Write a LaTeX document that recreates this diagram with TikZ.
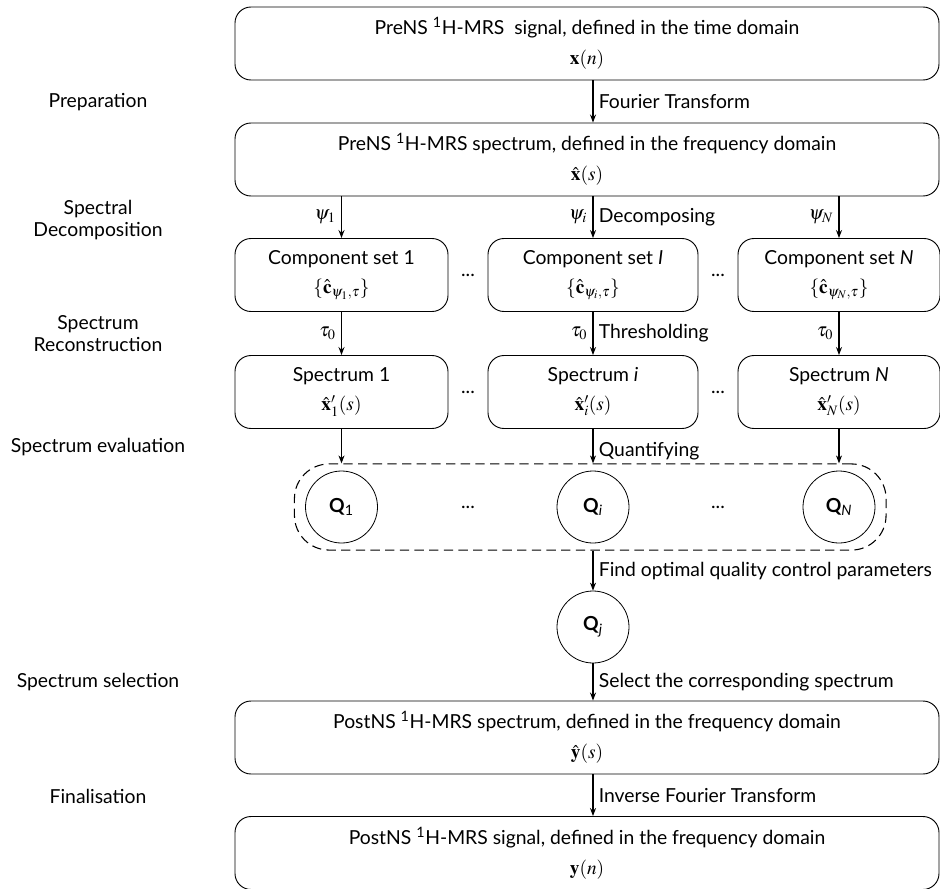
\documentclass[tikz,border=0pt]{standalone}
\usepackage{amsmath}
\usepackage{mathptmx}
\usepackage{fontspec}
\setmainfont{Lato}
\usepackage{tikz}
\usetikzlibrary{positioning,arrows.meta,fit,calc}

\begin{document}
\begin{tikzpicture}[
  x=0.75pt, y=-0.75pt,
  >={Stealth[length=6pt,width=4.5pt]},
  font=\fontsize{14.5}{16.5}\selectfont,
  flow/.style={->, line width=0.8pt},
  stagebox/.style={draw, line width=0.7pt, rounded corners=12pt, align=center,
    inner sep=0pt, minimum height=54.75pt},
  widebox/.style={stagebox, minimum width=528pt},
  qnode/.style={draw, circle, line width=0.6pt, minimum size=54pt, inner sep=0pt},
  phase/.style={align=center},
  lbl/.style={midway, inner sep=1pt},
]
\useasboundingbox (0,0) rectangle (940,889);

% Phase labels
\node[phase] (pPrep)  at (98,102) {Preparation};
\node[phase] (pDecom) at (98,220) {Spectral\\Decomposition};
\node[phase] (pRecon) at (98,334) {Spectrum\\Reconstruction};
\node[phase] (pEval)  at (98,447) {Spectrum evaluation};
\node[phase] (pSel)   at (98,682) {Spectrum selection};
\node[phase] (pFinal) at (98,796) {Finalisation};

% Wide boxes
\node[widebox] (prens) at (587,43.5)
  {PreNS \textsuperscript{1}H-MRS\ \ signal, defined in the time domain\\[6pt] $\mathbf{x}(n)$};
\node[widebox] (prespec) at (587,159.5)
  {PreNS \textsuperscript{1}H-MRS spectrum, defined in the frequency domain\\[6pt] $\hat{\mathbf{x}}(s)$};

% Component sets
\node[stagebox, minimum width=159.75pt] (comp1) at (341.5,275)
  {Component set 1\\[5pt] $\{\hat{\mathbf{c}}_{\psi_1,\tau}\}$};
\node[stagebox, minimum width=157.5pt] (compI) at (593,275)
  {Component set \textit{I}\\[5pt] $\{\hat{\mathbf{c}}_{\psi_i,\tau}\}$};
\node[stagebox, minimum width=151.5pt] (compN) at (839,275)
  {Component set \textit{N}\\[5pt] $\{\hat{\mathbf{c}}_{\psi_N,\tau}\}$};
\node (dotsC1) at (468,275) {...};
\node (dotsC2) at (718,275) {...};

% Reconstructed spectra
\node[stagebox, minimum width=159.75pt] (spec1) at (341.5,392)
  {Spectrum 1\\[5pt] $\hat{\mathbf{x}}'_1(s)$};
\node[stagebox, minimum width=157.5pt] (specI) at (593,392)
  {Spectrum \textit{i}\\[5pt] $\hat{\mathbf{x}}'_i(s)$};
\node[stagebox, minimum width=151.5pt] (specN) at (839,392)
  {Spectrum \textit{N}\\[5pt] $\hat{\mathbf{x}}'_N(s)$};
\node (dotsS1) at (468,392) {...};
\node (dotsS2) at (718,392) {...};

% Quality measures
\node[qnode] (q1) at (341.5,507) {\textbf{Q}\textsubscript{1}};
\node[qnode] (qi) at (593,507) {\textbf{Q}\textsubscript{\textit{i}}};
\node[qnode] (qN) at (839,507) {\textbf{Q}\textsubscript{\textit{N}}};
\node (dotsQ1) at (468,507) {...};
\node (dotsQ2) at (718,507) {...};
\node[draw, dash pattern=on 7pt off 4pt, line width=0.8pt, rounded corners=26pt,
  inner xsep=8pt, inner ysep=5pt, fit=(q1)(qN)] (qset) {};

\node[qnode] (qj) at (593,627) {\textbf{Q}\textsubscript{\textit{j}}};

% Output boxes
\node[widebox] (postspec) at (587,737.5)
  {PostNS \textsuperscript{1}H-MRS spectrum, defined in the frequency domain\\[6pt] $\hat{\mathbf{y}}(s)$};
\node[widebox] (postsig) at (587,853)
  {PostNS \textsuperscript{1}H-MRS signal, defined in the frequency domain\\[6pt] $\mathbf{y}(n)$};

% Connectors
\draw[flow] (compI |- prens.south) -- (compI |- prespec.north)
  node[lbl, right=3pt] {Fourier Transform};
\draw[flow] (comp1 |- prespec.south) -- (comp1.north) node[lbl, left=3pt] {$\psi_1$};
\draw[flow] (compI |- prespec.south) -- (compI.north) node[lbl, left=3pt] {$\psi_i$}
  node[lbl, right=3pt] {Decomposing};
\draw[flow] (compN |- prespec.south) -- (compN.north) node[lbl, left=3pt] {$\psi_N$};
\draw[flow] (comp1) -- (spec1) node[lbl, left=3pt] {$\tau_0$};
\draw[flow] (compI) -- (specI) node[lbl, left=3pt] {$\tau_0$}
  node[lbl, right=3pt] {Thresholding};
\draw[flow] (compN) -- (specN) node[lbl, left=3pt] {$\tau_0$};
\draw[flow] (spec1.south) -- (spec1 |- qset.north);
\draw[flow] (specI.south) -- (specI |- qset.north)
  node[lbl, right=3pt, yshift=-4pt] {Quantifying};
\draw[flow] (specN.south) -- (specN |- qset.north);
\draw[flow] (qi |- qset.south) -- (qj.north)
  node[lbl, right=3pt] {Find optimal quality control parameters};
\draw[flow] (qj.south) -- (qj |- postspec.north)
  node[lbl, right=3pt] {Select the corresponding spectrum};
\draw[flow] (qj |- postspec.south) -- (qj |- postsig.north)
  node[lbl, right=3pt] {Inverse Fourier Transform};

\end{tikzpicture}
\end{document}
